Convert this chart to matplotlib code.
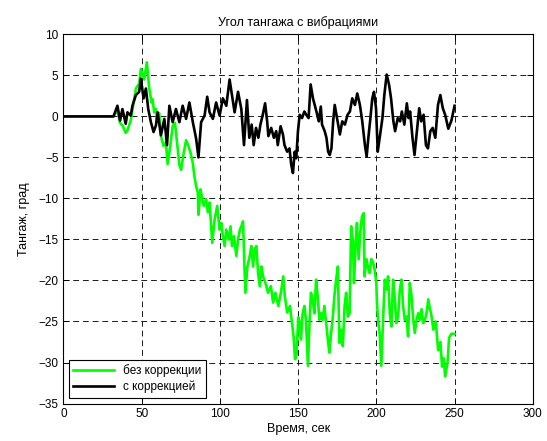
import matplotlib
matplotlib.use("Agg")
import matplotlib.pyplot as plt

plt.rcParams['font.family'] = ['Liberation Sans', 'DejaVu Sans']

# время и тангаж без коррекции (зелёная линия)
t_bez = [0, 32, 34.5, 36.2, 37.7, 39.8, 40.9, 43.0, 44.1, 46.3,
         48.4, 49.5, 51.6, 53.3, 54.8, 56.3, 57.0, 58.0, 59.1, 59.7,
         61.2, 62.3, 64.0, 65.5, 66.6, 68.3, 69.8, 71.3, 72.6, 74.1,
         75.2, 76.9, 78.4, 79.9, 81.2, 82.7, 83.7, 84.8, 85.9, 86.3,
         87.6, 88.4, 89.7, 91.2, 92.3, 93.4, 94.4, 95.1, 96.6, 98.3,
         99.8, 100.9, 101.9, 103.0, 104.1, 105.6, 106.8, 107.7, 109.0, 110.5,
         111.6, 112.8, 113.7, 114.8, 115.4, 116.3, 117.6, 119.1, 120.1, 121.2,
         122.3, 123.3, 124.4, 125.5, 126.6, 127.6, 129.1, 130.8, 132.6, 134.0,
         135.5, 137.3, 139.0, 140.5, 141.5, 143.0, 144.8, 146.3, 147.2, 148.0,
         149.0, 150.1, 150.9, 151.8, 152.9, 154.0, 155.0, 156.3, 157.2, 158.2,
         159.3, 160.4, 161.5, 162.5, 163.6, 164.7, 165.7, 166.8, 167.9, 169.0,
         170.0, 171.1, 172.2, 173.2, 174.3, 175.4, 176.4, 177.5, 178.6, 179.7,
         180.7, 181.8, 182.9, 183.9, 185.0, 185.7, 186.7, 187.6, 188.7, 189.7,
         190.8, 191.9, 192.5, 193.6, 194.6, 195.7, 196.8, 197.9, 198.9, 200.0,
         200.4, 201.1, 202.1, 203.2, 204.3, 205.4, 206.4, 207.5, 208.6, 209.6,
         210.7, 211.8, 212.8, 213.9, 215.0, 216.1, 217.1, 218.2, 219.3, 220.3,
         221.4, 222.5, 223.6, 224.6, 225.7, 226.8, 227.8, 228.9, 230.0, 231.0,
         232.1, 233.2, 234.3, 235.0, 236.5, 238.0, 239.5, 241.0, 242.0, 243.0,
         244.0, 245.5, 246.5, 248.0, 250.0]
pitch_bez = [0, 0, 0.8, -0.8, -1.1, -2.0, -1.7, -0.5, 0.8, 3.4,
             4.0, 5.8, 4.5, 6.6, 3.5, 1.7, 2.1, 0.5, 0.9, -0.3,
             0.4, -2.4, -3.6, -3.2, -5.8, -3.6, -1.2, -0.8, -3.2, -5.9,
             -6.5, -4.4, -2.9, -3.6, -4.4, -5.7, -7.3, -8.5, -9.3, -12.0,
             -8.9, -9.7, -10.9, -10.1, -11.7, -10.5, -13.4, -15.4, -12.6, -10.9,
             -13.8, -13.0, -14.6, -15.8, -13.8, -15.0, -13.4, -15.8, -14.6, -17.0,
             -15.0, -13.8, -13.4, -12.8, -16.6, -21.5, -18.3, -17.0, -15.8, -18.3,
             -16.2, -15.8, -19.1, -20.7, -18.3, -19.5, -20.3, -21.5, -20.7, -22.7,
             -21.5, -23.1, -21.5, -19.5, -21.9, -23.9, -23.1, -25.5, -27.0, -29.6,
             -29.0, -24.5, -25.0, -27.2, -24.0, -23.1, -24.8, -30.4, -25.6, -21.5,
             -22.3, -24.0, -19.9, -21.9, -24.8, -24.0, -24.8, -23.1, -25.2, -27.2,
             -28.8, -26.4, -24.4, -21.9, -19.9, -18.3, -27.6, -26.0, -28.0, -23.1,
             -21.5, -24.4, -24.0, -13.4, -15.0, -20.3, -15.8, -13.0, -17.4, -14.2,
             -12.2, -11.8, -19.5, -17.4, -18.3, -19.1, -17.4, -17.8, -18.6, -20.3,
             -22.7, -24.8, -26.4, -30.4, -24.8, -19.9, -21.1, -19.5, -24.0, -25.6,
             -19.9, -22.3, -25.2, -24.4, -21.1, -19.9, -23.1, -24.8, -24.4, -26.8,
             -20.3, -21.9, -24.8, -26.4, -24.8, -24.0, -24.8, -23.5, -25.2, -24.8,
             -24.0, -22.3, -23.5, -24.0, -26.0, -25.0, -28.5, -27.5, -30.5, -29.5,
             -31.7, -30.0, -27.0, -26.5, -26.5]

# время и тангаж с коррекцией (чёрная линия)
t_kor = [0, 32, 34.5, 36.2, 37.7, 39.8, 40.9, 43.0, 44.1, 46.3,
         48.4, 49.5, 51.2, 52.7, 54.2, 55.9, 57.6, 59.1, 60.2, 62.3,
         64.5, 66.2, 67.7, 69.8, 71.9, 74.1, 76.2, 78.4, 80.5, 82.7,
         84.8, 86.3, 88.0, 90.2, 91.9, 93.4, 95.5, 97.6, 99.8, 101.9,
         104.1, 106.2, 107.7, 109.4, 111.6, 113.7, 115.4, 117.3, 118.8, 120.3,
         121.6, 123.1, 124.6, 125.9, 127.4, 128.9, 130.2, 131.0, 132.8, 134.5,
         136.0, 137.0, 138.8, 140.3, 141.3, 143.0, 144.5, 145.6, 146.7, 147.8,
         148.8, 149.9, 151.0, 152.5, 154.0, 155.2, 156.7, 158.0, 159.5, 160.6,
         161.7, 163.2, 164.5, 165.3, 167.0, 168.1, 169.2, 170.2, 171.3, 172.4,
         173.4, 175.2, 176.7, 178.2, 179.9, 181.6, 183.1, 184.6, 186.3, 187.8,
         189.5, 191.0, 192.7, 193.8, 194.9, 196.0, 197.4, 198.5, 199.8, 200.9,
         202.4, 203.9, 205.1, 206.6, 208.1, 209.4, 210.9, 212.0, 213.7, 215.2,
         216.3, 217.9, 219.5, 220.6, 221.6, 223.1, 224.4, 225.9, 227.4, 228.7,
         230.2, 231.7, 233.0, 234.5, 236.0, 237.7, 239.4, 240.9, 242.5, 244.0,
         246.0, 248.0, 250.0]
pitch_kor = [0, 0, 1.3, -0.5, 0.9, -0.9, 0.5, 0.1, 1.3, 2.6,
             3.0, 4.6, 2.2, 3.4, 0.9, -0.7, -1.9, -1.1, 0.5, -2.3,
             -0.3, -3.5, 1.3, -0.7, 0.9, -0.7, 1.3, -0.3, 1.7, -0.7,
             -2.7, -5.0, -0.7, 0.1, 2.4, 0.5, -0.3, 1.7, 0.1, 2.2,
             1.3, 4.5, 2.6, 0.5, 3.0, 0.9, -3.5, 2.0, -2.6, -1.0,
             -3.5, -1.4, -2.6, -1.0, 0.2, 1.6, -0.6, -2.4, -1.4, -2.6,
             -1.8, -3.5, -1.2, -2.2, -3.5, -4.3, -3.9, -5.9, -6.9, -4.3,
             -5.1, -1.8, 0.2, -0.2, 0.6, 0.2, -0.2, 3.9, 2.2, 1.4,
             0.6, -0.6, 1.2, -1.0, -1.8, -2.6, -4.3, -4.7, -3.9, -0.6,
             1.4, -0.6, -2.2, -0.6, -1.0, 0.2, 0.6, 2.2, 1.4, 2.8,
             1.4, -0.6, -3.5, -4.9, -2.6, -0.6, 2.2, 3.0, 1.0, -4.3,
             -2.2, -0.2, 2.6, 5.1, 3.9, 2.2, -0.6, -1.8, -0.2, -0.6,
             0.6, -1.0, 1.6, -0.2, 0.6, -2.6, -4.7, -1.8, 1.0, -0.6,
             0.2, -3.5, -3.9, -1.8, -1.4, -2.6, 1.4, 2.6, 1.0, 0.2,
             -1.5, -0.5, 1.3]

xticks = [0, 50, 100, 150, 200, 250, 300]
yticks = [-35, -30, -25, -20, -15, -10, -5, 0, 5, 10]

fig = plt.figure(figsize=(5.47, 4.41), dpi=100)
ax = fig.add_axes([0.116, 0.085, 0.858, 0.837])

ax.plot(t_bez, pitch_bez, color=(0, 1, 0), lw=1.9, label='без коррекции')
ax.plot(t_kor, pitch_kor, color='black', lw=1.9, label='с коррекцией')

ax.set_xlim(0, 300)
ax.set_ylim(-35, 10)
ax.set_xticks(xticks)
ax.set_yticks(yticks)
ax.tick_params(direction='in', length=4, labelsize=8.5, top=True, right=True,
               width=0.7)
ax.grid(True, color='0.1', linestyle=(0, (6, 4)), linewidth=0.7)
for s in ax.spines.values():
    s.set_linewidth(0.8)

ax.set_title('Угол тангажа с вибрациями', fontsize=9, pad=6)
ax.set_xlabel('Время, сек', fontsize=9, labelpad=2)
ax.set_ylabel('Тангаж, град', fontsize=9, labelpad=6)

leg = ax.legend(loc='lower left', fontsize=8.5, handlelength=3.4,
                fancybox=False, framealpha=1, edgecolor='black',
                borderaxespad=0.5, borderpad=0.35, labelspacing=0.3)
leg.get_frame().set_linewidth(0.8)

fig.savefig('out.png', dpi=100)
